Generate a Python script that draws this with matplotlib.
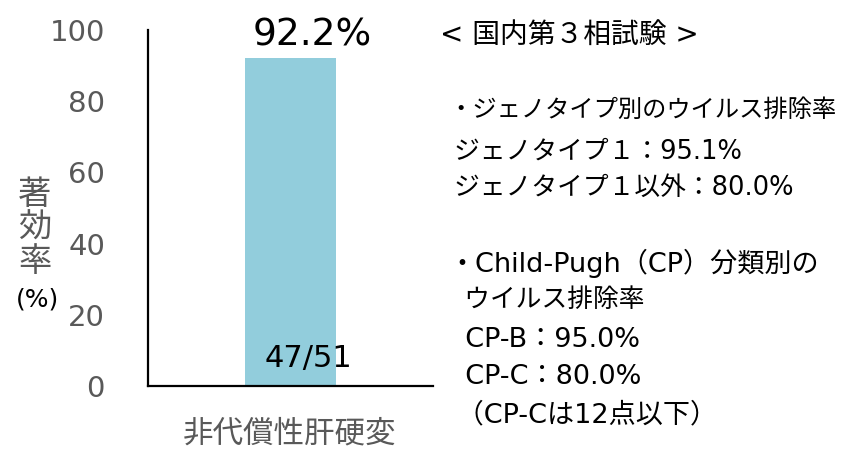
import matplotlib
matplotlib.use("Agg")
import matplotlib.pyplot as plt

categories = ["非代償性肝硬変"]
values = [92.2]
bar_labels = ["92.2%"]
inner_labels = ["47/51"]
yticks = [0, 20, 40, 60, 80, 100]
notes = [
    "< 国内第３相試験 >",
    "・ジェノタイプ別のウイルス排除率",
    " ジェノタイプ１：95.1%",
    " ジェノタイプ１以外：80.0%",
    "・Child-Pugh（CP）分類別の",
    "  ウイルス排除率",
    "  CP-B：95.0%",
    "  CP-C：80.0%",
    " （CP-Cは12点以下）",
]
note_pos = [(440, 35), (448, 110), (446, 152), (446, 188), (448, 263),
            (448, 300), (448, 340), (448, 377), (448, 415)]
note_size = [20, 17.5, 18.5, 18.5, 19.5, 18.5, 19.5, 19.5, 19.5]

W, H = 855, 451
fig = plt.figure(figsize=(W / 100, H / 100), dpi=100)
ax = fig.add_axes([148 / W, 1 - 386 / H, (433 - 148) / W, (386 - 30) / H])

jp = ['Noto Sans CJK JP', 'DejaVu Sans']
mix = ['DejaVu Sans', 'Noto Sans CJK JP']
gray = '#595959'

x = range(len(categories))
bars = ax.bar(x, values, width=0.316, color='#92CDDC')
ax.set_xlim(-0.5, 0.5)
ax.set_ylim(0, 100)
ax.set_yticks(yticks)
ax.set_yticklabels([str(t) for t in yticks], fontsize=21, color=gray, family='DejaVu Sans')
ax.tick_params(axis='y', length=0, pad=31)
ax.set_xticks([])
for s in ['top', 'right']:
    ax.spines[s].set_visible(False)
for s in ['left', 'bottom']:
    ax.spines[s].set_linewidth(1.6)
    ax.spines[s].set_color('black')

for i, (v, lab, inn) in enumerate(zip(values, bar_labels, inner_labels)):
    ax.annotate(lab, xy=(i, v), xytext=(22, 4), textcoords='offset pixels',
                ha='center', va='bottom', fontsize=27, color='black', family='DejaVu Sans')
    ax.annotate(inn, xy=(i, 0), xytext=(18, 28), textcoords='offset pixels',
                ha='center', va='center', fontsize=22, color='black', family='DejaVu Sans')

fig.text(290 / W, 1 - 434 / H, categories[0], ha='center', va='center',
         fontsize=22, color=gray, family=jp)

fig.text(35 / W, 1 - 228 / H, "著\n効\n率", ha='center', va='center', fontsize=24,
         color=gray, family=jp, linespacing=0.95)
fig.text(37 / W, 1 - 300 / H, "(%)", ha='center', va='center', fontsize=18,
         color='black', family='DejaVu Sans')

for t, (px, py), fs in zip(notes, note_pos, note_size):
    fig.text(px / W, 1 - py / H, t, ha='left', va='center', fontsize=fs, color='black', family=mix)

fig.savefig("out.png", dpi=100)
